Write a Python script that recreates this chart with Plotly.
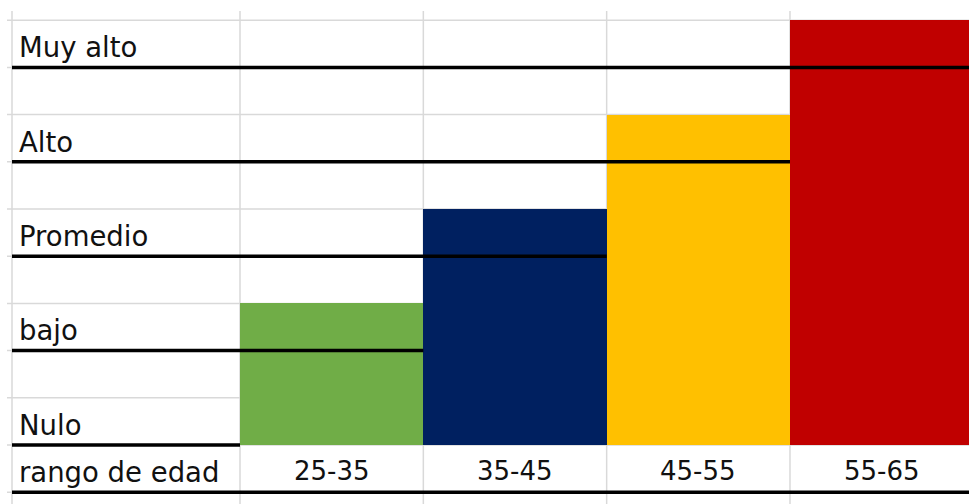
import plotly.graph_objects as go

# ---- data ----
age_ranges = ["25-35", "35-45", "45-55", "55-65"]
bar_rows = [3, 5, 7, 9]          # bar height, in spreadsheet rows above the "Nulo" line
bar_colors = ["#70AD47", "#002060", "#FFC000", "#C00000"]
levels = ["Nulo", "bajo", "Promedio", "Alto", "Muy alto"]
header_label = "rango de edad"

W, H = 969, 504
COL_W = 183.33        # px per column unit
ROW_H = 47.2          # px per row unit
X0_PX = 240           # pixel of x = 0
Y0_PX = 445           # pixel of y = 0

def xpx(p):
    return (p - X0_PX) / COL_W

def ypx(p):
    return (Y0_PX - p) / ROW_H

left_edge = xpx(12)
n = len(age_ranges)

fig = go.Figure()

# coloured cells
fig.add_trace(go.Bar(
    x=[i + 0.5 for i in range(n)], y=bar_rows, width=1, base=0,
    marker=dict(color=bar_colors, line=dict(width=0)),
    showlegend=False, hoverinfo="skip",
))

# black level lines: level k runs from the label column to the right edge of column k
for k, name in enumerate(levels):
    fig.add_trace(go.Scatter(
        x=[left_edge, k], y=[2 * k, 2 * k], mode="lines",
        line=dict(color="black", width=3.5), showlegend=False, hoverinfo="skip",
    ))
# bottom line under the age-range row
fig.add_trace(go.Scatter(
    x=[left_edge, n], y=[-1, -1], mode="lines",
    line=dict(color="black", width=3.5), showlegend=False, hoverinfo="skip",
))

shapes = []
grid = "#d9d9d9"
# vertical sheet gridlines
for xv in [left_edge] + list(range(n)):
    shapes.append(dict(type="line", xref="x", yref="y", x0=xv, x1=xv,
                       y0=ypx(H), y1=ypx(11), line=dict(color=grid, width=1.5),
                       layer="below"))
# horizontal sheet gridlines
for r in range(-1, 10):
    shapes.append(dict(type="line", xref="x", yref="y", x0=xpx(7), x1=n,
                       y0=r, y1=r, line=dict(color=grid, width=1.5),
                       layer="below"))

font_lbl = dict(family="DejaVu Sans", size=27.5, color="#111111")
font_num = dict(family="DejaVu Sans", size=26, color="#111111")
annotations = []
for k, name in enumerate(levels):
    annotations.append(dict(x=xpx(17), y=2 * k + 0.43, xref="x", yref="y",
                            text=name, showarrow=False, xanchor="left",
                            yanchor="middle", font=font_lbl))
annotations.append(dict(x=xpx(17), y=-0.57, xref="x", yref="y",
                        text=header_label, showarrow=False, xanchor="left",
                        yanchor="middle", font=font_lbl))
for i, lab in enumerate(age_ranges):
    annotations.append(dict(x=i + 0.5, y=-0.55, xref="x", yref="y",
                            text=lab, showarrow=False, xanchor="center",
                            yanchor="middle", font=font_num))

fig.update_layout(
    width=W, height=H, margin=dict(l=0, r=0, t=0, b=0),
    paper_bgcolor="white", plot_bgcolor="white",
    xaxis=dict(range=[xpx(0), xpx(W)], visible=False, fixedrange=True),
    yaxis=dict(range=[ypx(H), ypx(0)], visible=False, fixedrange=True),
    shapes=shapes, annotations=annotations, bargap=0, hovermode=False,
)

fig.write_html("out.html", config={"displayModeBar": False})
